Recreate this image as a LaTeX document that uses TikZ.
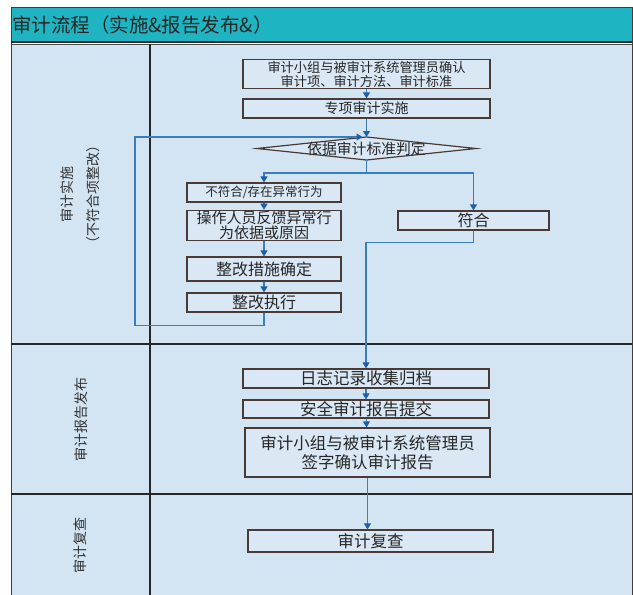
\documentclass[tikz,border=0pt]{standalone}
\usepackage{fontspec}
\newfontfamily\cjk{Noto Sans CJK SC}
\usetikzlibrary{arrows.meta}
\definecolor{bgblue}{HTML}{D3E4F2}
\definecolor{titlebg}{HTML}{1FB4C1}
\definecolor{boxfill}{HTML}{DAE8F5}
\definecolor{lineblue}{HTML}{3A7DBE}
\definecolor{arrblue}{HTML}{1F5FA8}
\definecolor{framec}{HTML}{4A3A35}
\begin{document}
\begin{tikzpicture}[x=1pt,y=-1pt,font=\cjk,
  box/.style={draw=framec,line width=1.2pt,fill=boxfill,inner sep=1pt,align=center,text=black!85},
  flow/.style={draw=lineblue,line width=1.1pt,-{Triangle[width=7pt,length=6pt,color=arrblue]}},
  plain/.style={draw=lineblue,line width=1.1pt},
  lane/.style={rotate=90,align=center,text=black!80},
  sep/.style={draw=black!85,line width=1.3pt}]
\useasboundingbox (0,0) rectangle (633,595);
% background and frame
\fill[bgblue] (11,44) rectangle (632,595);
\fill[titlebg] (11,7) rectangle (632,42);
\draw[framec,line width=1pt] (11,595) -- (11,7) -- (632,7) -- (632,595);
\draw[sep] (11,42) -- (632,42);
\draw[black!70,line width=0.6pt] (11,44.5) -- (632,44.5);
\draw[sep] (150,44) -- (150,595);
\draw[sep] (11,344) -- (632,344);
\draw[sep] (11,494) -- (632,494);
\node[anchor=west,font=\cjk\fontsize{19.5}{21}\selectfont,text=black!85,inner sep=0] (title) at (12,25) {审计流程（实施\&报告发布\&）};
% lane labels
\node[lane,font=\cjk\fontsize{14}{26}\selectfont] (lane1) at (80,194) {审计实施\\（不符合项整改）};
\node[lane,font=\cjk\fontsize{14}{16}\selectfont] (lane2) at (81,419) {审计报告发布};
\node[lane,font=\cjk\fontsize{14}{16}\selectfont] (lane3) at (80,545) {审计复查};
% boxes
\node[box,minimum width=247pt,minimum height=28pt,font=\cjk\fontsize{13.2}{14}\selectfont] (b1) at (366.5,74) {审计小组与被审计系统管理员确认\\审计项、审计方法、审计标准};
\node[box,minimum width=247pt,minimum height=19pt,font=\cjk\fontsize{14}{15}\selectfont] (b2) at (366.5,108.5) {专项审计实施};
% diamond
\coordinate (dl) at (257,148.5);
\coordinate (dt) at (366.5,137);
\coordinate (dr) at (476,148.5);
\coordinate (db) at (366.5,160);
\draw[framec,line width=1.2pt,fill=boxfill] (dl) -- (dt) -- (dr) -- (db) -- cycle;
\node[font=\cjk\fontsize{14.8}{16}\selectfont,text=black!85,inner sep=0] (judge) at (366.5,148.5) {依据审计标准判定};
\node[box,minimum width=154pt,minimum height=19pt,font=\cjk\fontsize{12.5}{14}\selectfont] (nc) at (264,192.5) {不符合/存在异常行为};
\node[box,minimum width=154pt,minimum height=29pt,font=\cjk\fontsize{15}{14.5}\selectfont] (fb) at (264,225.5) {操作人员反馈异常行\\为依据或原因};
\node[box,minimum width=154pt,minimum height=24pt,font=\cjk\fontsize{16}{17}\selectfont] (fix) at (264,269) {整改措施确定};
\node[box,minimum width=154pt,minimum height=19pt,font=\cjk\fontsize{16}{17}\selectfont] (exec) at (264,302.5) {整改执行};
\node[box,minimum width=151pt,minimum height=19pt,font=\cjk\fontsize{16}{17}\selectfont] (ok) at (473.5,220.5) {符合};
\node[box,minimum width=246pt,minimum height=19pt,font=\cjk\fontsize{16.5}{17}\selectfont] (log) at (366,378.5) {日志记录收集归档};
\node[box,minimum width=246pt,minimum height=18pt,font=\cjk\fontsize{16.5}{17}\selectfont] (rep) at (366,409) {安全审计报告提交};
\node[box,minimum width=245pt,minimum height=49pt,font=\cjk\fontsize{16.5}{19}\selectfont] (sign) at (367.5,452.5) {审计小组与被审计系统管理员\\签字确认审计报告};
\node[box,minimum width=245pt,minimum height=22pt,font=\cjk\fontsize{16.5}{17}\selectfont] (review) at (370.5,541) {审计复查};
% connectors
\draw[flow] (b1) -- (b2);
\draw[flow] (b2) -- (dt);
\draw[flow] (exec.south) -- ++(0,13) -| (135,137) -- ([xshift=-4pt]dt);
\coordinate (split) at (366.5,173);
\draw[plain] (db) -- (split);
\draw[flow] (split) -| (nc.north);
\draw[flow] (split) -| (ok.north);
\draw[flow] (nc) -- (fb);
\draw[flow] (fb) -- (fix);
\draw[flow] (fix) -- (exec);
\draw[flow] (ok.south) -- ++(0,12) -| (log.north);
\draw[flow] (log) -- (rep);
\draw[flow] (rep) -- (sign);
\draw[flow] (sign.south) -- (sign.south |- review.north);
\end{tikzpicture}
\end{document}
